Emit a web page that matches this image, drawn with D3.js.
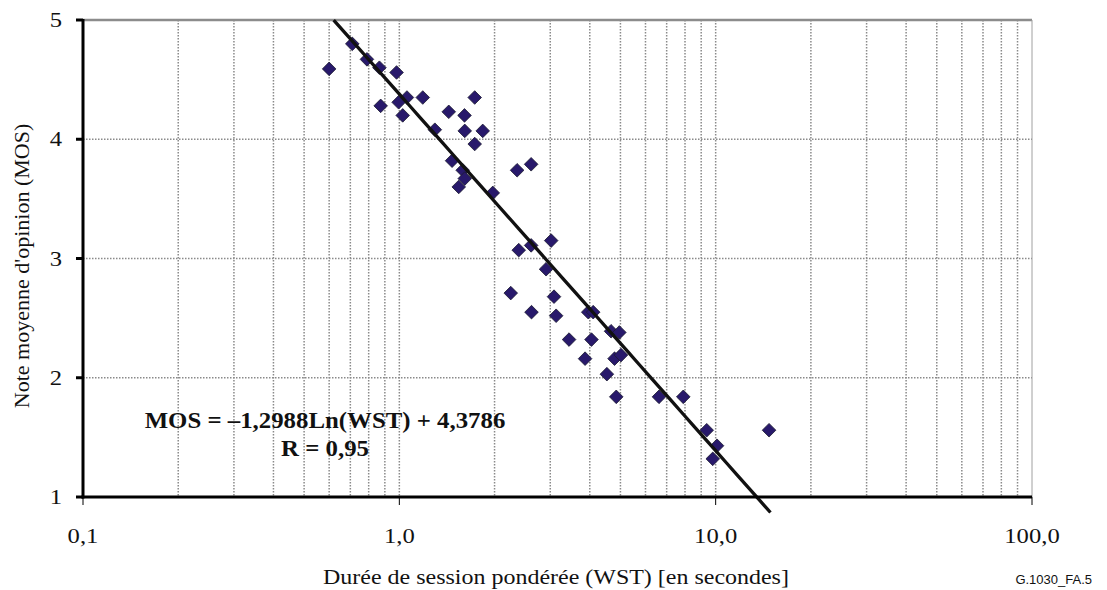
<!DOCTYPE html>
<html>
<head>
<meta charset="utf-8">
<script src="https://cdn.jsdelivr.net/npm/d3@7"></script>
<style>
  html, body { margin: 0; padding: 0; background: #fff; }
  svg { display: block; }
</style>
</head>
<body>
<svg id="chart" width="1107" height="590"></svg>
<script>
// ---- data ----
const wst = [0.60, 0.71, 0.79, 0.865, 0.98, 0.873, 0.995, 1.057, 1.186, 1.025,
             1.433, 1.607, 1.731, 1.295, 1.610, 1.835, 1.731, 1.468, 1.586, 1.610,
             1.541, 1.974, 2.357, 2.610, 3.020, 2.385, 2.610, 2.910, 2.250, 3.083,
             2.617, 3.131, 3.955, 4.10, 3.44, 4.05, 4.67, 4.96, 3.865, 4.79,
             5.02, 4.53, 4.85, 6.62, 7.90, 9.37, 10.10, 9.79, 14.75];
const mos = [4.59, 4.80, 4.67, 4.60, 4.56, 4.28, 4.31, 4.35, 4.35, 4.20,
             4.23, 4.20, 4.35, 4.08, 4.07, 4.07, 3.96, 3.82, 3.74, 3.67,
             3.60, 3.55, 3.74, 3.79, 3.15, 3.07, 3.11, 2.91, 2.71, 2.68,
             2.55, 2.52, 2.55, 2.55, 2.32, 2.32, 2.39, 2.38, 2.16, 2.16,
             2.19, 2.03, 1.84, 1.84, 1.84, 1.56, 1.43, 1.32, 1.56];
const trendA = -1.2988, trendB = 4.3786;
const trendRange = [0.62, 14.9];
const xTicks = [0.1, 1, 10, 100];
const xTickLabels = ["0,1", "1,0", "10,0", "100,0"];
const yTicks = [1, 2, 3, 4, 5];
const yTickLabels = ["1", "2", "3", "4", "5"];
const xTitle = "Durée de session pondérée (WST) [en secondes]";
const yTitle = "Note moyenne d'opinion (MOS)";
const eqLine1 = "MOS = \u20131,2988Ln(WST) + 4,3786";
const eqLine2 = "R = 0,95";
const figId = "G.1030_FA.5";

// ---- layout ----
const svg = d3.select("#chart");
const L = 83, R = 1032, T = 20, B = 497;
const x = d3.scaleLog().domain([0.1, 100]).range([L, R]);
const y = d3.scaleLinear().domain([1, 5]).range([B, T]);
const serif = "'Liberation Serif', 'Times New Roman', serif";
const SX = 1.12; // horizontal stretch of text as in reference

function label(px, py, txt, opts) {
  const o = Object.assign({ size: 22, anchor: "middle", weight: "normal", family: serif, sx: SX, rotate: 0 }, opts || {});
  return svg.append("text")
    .attr("transform", `translate(${px},${py}) rotate(${o.rotate}) scale(${o.sx},1)`)
    .attr("text-anchor", o.anchor)
    .attr("font-family", o.family).attr("font-size", o.size).attr("font-weight", o.weight)
    .attr("fill", "#111")
    .text(txt);
}

// minor vertical gridlines
const minor = [];
[0.1, 1, 10].forEach(d => { for (let k = 2; k <= 10; k++) minor.push(d * k); });
svg.append("g").selectAll("line").data(minor.filter(v => v < 100)).join("line")
  .attr("x1", d => x(d)).attr("x2", d => x(d))
  .attr("y1", T).attr("y2", B)
  .attr("stroke", "#8a8a8a").attr("stroke-width", 1.5)
  .attr("stroke-dasharray", "1.5,1.5");

// horizontal gridlines
svg.append("g").selectAll("line").data([2, 3, 4]).join("line")
  .attr("x1", L).attr("x2", R)
  .attr("y1", d => y(d)).attr("y2", d => y(d))
  .attr("stroke", "#8a8a8a").attr("stroke-width", 1.5)
  .attr("stroke-dasharray", "1.5,1.5");

// plot border top/right
svg.append("line").attr("x1", L).attr("x2", R).attr("y1", T).attr("y2", T)
  .attr("stroke", "#8c8c8c").attr("stroke-width", 2.5);
svg.append("line").attr("x1", R).attr("x2", R).attr("y1", T).attr("y2", B)
  .attr("stroke", "#a0a0a0").attr("stroke-width", 1);

// points
const diamond = "M0,-6.8L6.8,0L0,6.8L-6.8,0Z";
svg.append("g").selectAll("path").data(wst.map((w, i) => [w, mos[i]])).join("path")
  .attr("d", diamond)
  .attr("transform", d => `translate(${x(d[0])},${y(d[1])})`)
  .attr("fill", "#28196b").attr("stroke", "#1a1a2e").attr("stroke-width", 0.8);

// trendline
const tPts = d3.range(0, 41).map(i => {
  const lw = Math.log(trendRange[0]) + (Math.log(trendRange[1]) - Math.log(trendRange[0])) * i / 40;
  const w = Math.exp(lw);
  return [w, trendA * Math.log(w) + trendB];
});
svg.append("path")
  .attr("d", d3.line().x(d => x(d[0])).y(d => y(d[1]))(tPts))
  .attr("fill", "none").attr("stroke", "#111").attr("stroke-width", 3.3);

// axes lines
svg.append("line").attr("x1", L).attr("x2", L).attr("y1", T - 1).attr("y2", B + 1.5)
  .attr("stroke", "#000").attr("stroke-width", 3);
svg.append("line").attr("x1", L - 1.5).attr("x2", R).attr("y1", B).attr("y2", B)
  .attr("stroke", "#000").attr("stroke-width", 3);

// y ticks
svg.append("g").selectAll("line").data(yTicks).join("line")
  .attr("x1", L - 7).attr("x2", L).attr("y1", d => y(d)).attr("y2", d => y(d))
  .attr("stroke", "#000").attr("stroke-width", 3);
yTicks.forEach((d, i) => label(62, y(d) + 7, yTickLabels[i], { anchor: "end" }));

// x ticks
svg.append("g").selectAll("line").data(xTicks).join("line")
  .attr("x1", d => x(d)).attr("x2", d => x(d)).attr("y1", B).attr("y2", B + 8)
  .attr("stroke", "#000").attr("stroke-width", 1);
xTicks.forEach((d, i) => label(x(d), 543, xTickLabels[i]));

// titles
label(556, 584, xTitle, { sx: 1.09 });
label(29, 266, yTitle, { rotate: -90, sx: 1 });

// equation
label(325, 428, eqLine1, { size: 23, weight: "bold", sx: 1.08 });
label(325, 456, eqLine2, { size: 23, weight: "bold", sx: 1.08 });

// figure id
label(1092, 584, figId, { anchor: "end", size: 13, sx: 1, family: "'Liberation Sans', Arial, sans-serif" });
</script>
</body>
</html>
